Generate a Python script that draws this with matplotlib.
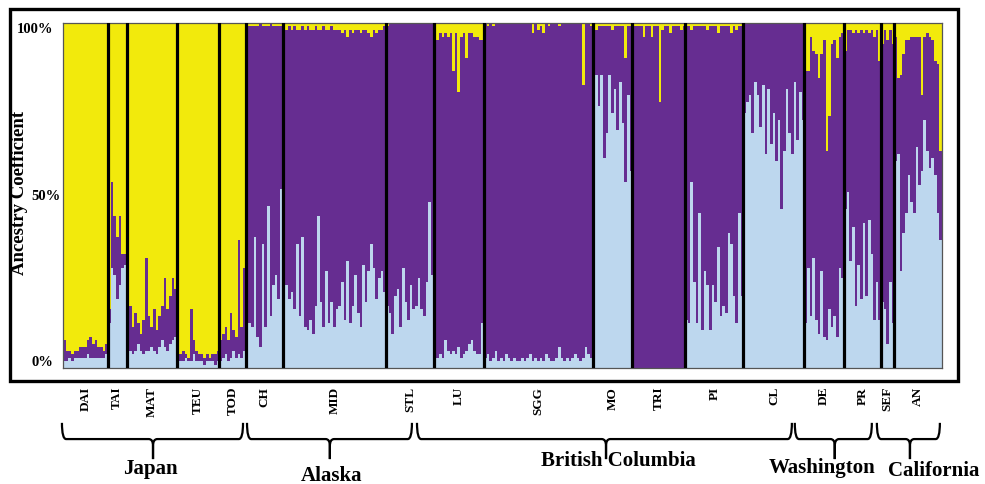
"""
plot.py - admixture (K=3) bar plot for the sampled populations.

Usage: python3 plot.py
"""

import numpy as np
import matplotlib
matplotlib.use("Agg")
import matplotlib.pyplot as plt
from matplotlib.path import Path
from matplotlib.patches import PathPatch, Rectangle
from matplotlib.transforms import blended_transform_factory

OUTPUT_PATH = "out.png"

# ancestry per individual, in percent; purple = 100 - blue - yellow
DAI_BLUE = [2, 2, 3, 2, 3, 3, 3, 3, 3, 4, 3, 3, 3, 3, 3, 3, 4]
DAI_YELLOW = [92, 95, 95, 96, 95, 95, 94, 94, 94, 92, 91, 93, 92, 94, 94, 95, 93]
TAI_BLUE = [13, 29, 27, 20, 24, 29, 30]
TAI_YELLOW = [83, 46, 56, 62, 56, 67, 67]
MAT_BLUE = [6, 5, 4, 5, 7, 5, 4, 5, 5, 6, 5, 4, 6, 8, 6, 5, 7, 8, 9]
MAT_YELLOW = [81, 82, 88, 84, 87, 90, 86, 68, 85, 88, 83, 89, 85, 82, 74, 83, 79, 74, 77]
TEU_BLUE = [2, 2, 2, 3, 2, 2, 4, 2, 2, 2, 1, 2, 2, 2, 1, 2]
TEU_YELLOW = [96, 96, 95, 96, 97, 83, 92, 95, 96, 96, 97, 96, 97, 96, 96, 95]
TOD_BLUE = [2, 3, 4, 2, 3, 5, 3, 4, 3, 5]
TOD_YELLOW = [92, 90, 88, 92, 84, 89, 91, 63, 88, 71]
CH_BLUE = [14, 13, 12, 38, 9, 6, 36, 12, 47, 15, 24, 27, 20, 52]
CH_YELLOW = [1, 1, 1, 1, 1, 0, 1, 1, 1, 0, 1, 1, 1, 1]
MID_BLUE = [27, 24, 20, 22, 17, 36, 15, 38, 12, 11, 14, 10, 18, 44, 19, 12, 28, 13, 19, 12,
            17, 18, 25, 14, 31, 13, 18, 27, 16, 12, 30, 19, 28, 36, 29, 20, 26, 28, 22]
MID_YELLOW = [10, 2, 1, 2, 1, 2, 2, 1, 2, 1, 2, 2, 1, 2, 2, 1, 2, 2, 1, 2,
              2, 2, 3, 2, 4, 2, 3, 2, 2, 3, 2, 2, 3, 4, 2, 3, 2, 2, 1]
STL_BLUE = [18, 16, 10, 21, 23, 12, 29, 19, 14, 24, 17, 18, 26, 17, 15, 25, 48, 27]
STL_YELLOW = [1, 0, 0, 0, 0, 0, 0, 0, 0, 0, 0, 0, 0, 0, 0, 0, 0, 0]
LU_BLUE = [10, 3, 4, 3, 8, 5, 4, 5, 4, 6, 3, 4, 5, 7, 8, 5, 4, 4, 13]
LU_YELLOW = [5, 5, 3, 4, 3, 4, 3, 14, 3, 20, 4, 3, 10, 3, 3, 4, 4, 5, 5]
SGG_BLUE = [3, 4, 2, 3, 5, 2, 3, 2, 4, 3, 2, 3, 2, 2, 3, 2, 3, 4, 2, 3,
            2, 3, 2, 4, 3, 2, 2, 3, 6, 3, 2, 3, 2, 3, 4, 3, 2, 3, 6, 4, 3]
SGG_YELLOW = [0, 1, 0, 1, 0, 0, 0, 0, 0, 0, 0, 0, 0, 0, 0, 0, 0, 0, 3, 0,
              2, 1, 3, 0, 1, 0, 0, 0, 1, 0, 0, 0, 0, 0, 0, 0, 0, 18, 0, 0, 1]
MO_BLUE = [44, 85, 76, 85, 61, 68, 85, 74, 81, 69, 83, 71, 54, 79, 57]
MO_YELLOW = [1, 2, 1, 1, 1, 1, 1, 2, 1, 1, 1, 1, 10, 1, 1]
TRI_BLUE = [0, 0, 0, 0, 0, 0, 0, 0, 0, 0, 0, 0, 0, 0, 0, 0, 0, 0, 0, 0]
TRI_YELLOW = [1, 1, 1, 1, 4, 1, 1, 4, 1, 1, 23, 2, 1, 1, 3, 1, 1, 1, 2, 1]
PI_BLUE = [14, 13, 54, 25, 13, 45, 11, 28, 24, 11, 24, 19, 35, 15, 18, 16, 39, 36, 21, 13, 45, 21]
PI_YELLOW = [1, 1, 2, 1, 1, 1, 1, 1, 2, 1, 1, 1, 3, 1, 1, 1, 1, 3, 1, 2, 1, 1]
CL_BLUE = [74, 77, 79, 68, 83, 79, 70, 82, 62, 81, 65, 74, 60, 72, 46, 63, 81, 68, 62, 83, 66, 80, 72]
CL_YELLOW = [0, 0, 0, 0, 0, 0, 0, 0, 0, 0, 0, 0, 0, 0, 0, 0, 0, 0, 0, 0, 0, 0, 0]
DE_BLUE = [13, 29, 15, 32, 14, 10, 28, 9, 8, 17, 12, 15, 9, 29, 26]
DE_YELLOW = [14, 14, 4, 8, 9, 16, 9, 5, 37, 27, 6, 5, 10, 4, 3]
PR_BLUE = [46, 51, 31, 41, 18, 30, 20, 42, 21, 43, 33, 14, 25, 14]
PR_YELLOW = [8, 2, 2, 3, 2, 3, 2, 3, 2, 3, 2, 4, 2, 11]
SEF_BLUE = [19, 17, 7, 25, 13]
SEF_YELLOW = [6, 2, 5, 2, 6]
AN_BLUE = [60, 62, 28, 39, 45, 56, 48, 45, 64, 53, 57, 72, 63, 58, 61, 56, 45, 37]
AN_YELLOW = [4, 16, 15, 9, 5, 5, 4, 4, 4, 4, 21, 4, 3, 4, 5, 11, 12, 37]

POPS = ["DAI", "TAI", "MAT", "TEU", "TOD", "CH", "MID", "STL", "LU", "SGG",
        "MO", "TRI", "PI", "CL", "DE", "PR", "SEF", "AN"]
POP_BLUE = [DAI_BLUE, TAI_BLUE, MAT_BLUE, TEU_BLUE, TOD_BLUE, CH_BLUE, MID_BLUE,
            STL_BLUE, LU_BLUE, SGG_BLUE, MO_BLUE, TRI_BLUE, PI_BLUE, CL_BLUE,
            DE_BLUE, PR_BLUE, SEF_BLUE, AN_BLUE]
POP_YELLOW = [DAI_YELLOW, TAI_YELLOW, MAT_YELLOW, TEU_YELLOW, TOD_YELLOW, CH_YELLOW,
              MID_YELLOW, STL_YELLOW, LU_YELLOW, SGG_YELLOW, MO_YELLOW, TRI_YELLOW,
              PI_YELLOW, CL_YELLOW, DE_YELLOW, PR_YELLOW, SEF_YELLOW, AN_YELLOW]

REGIONS = ["Japan", "Alaska", "British Columbia", "Washington", "California"]
# brace (start, tip, end) and label x, in individual units along the bar axis
BRACES = [(-0.4, 34.0, 68.0), (69.5, 100.8, 131.8), (133.7, 205.1, 275.3),
          (276.4, 291.5, 305.5), (307.4, 319.9, 331.2)]
REGION_LABEL_X = [32.9, 101.6, 209.6, 286.6, 329.0]
REGION_LABEL_Y = [-0.304, -0.325, -0.281, -0.301, -0.31]

C_BLUE = "#BDD7EE"
C_PURPLE = "#662D91"
C_YELLOW = "#F2EA0C"
FONT = "Liberation Serif"

W, H = 985, 485


def brace(ax, x0, xc, x1, y_top=-0.159, y_h=-0.206, y_tip=-0.264, r=1.6):
    tr = blended_transform_factory(ax.transData, ax.transAxes)
    dy = 0.02
    verts = [(x0, y_top), (x0, y_h), (x0 + r, y_h),
             (xc - r, y_h), (xc, y_h), (xc, y_h - dy), (xc, y_tip),
             (xc, y_h - dy), (xc, y_h), (xc + r, y_h),
             (x1 - r, y_h), (x1, y_h), (x1, y_top)]
    codes = [Path.MOVETO, Path.CURVE3, Path.CURVE3,
             Path.LINETO, Path.CURVE3, Path.CURVE3, Path.LINETO,
             Path.LINETO, Path.CURVE3, Path.CURVE3,
             Path.LINETO, Path.CURVE3, Path.CURVE3]
    patch = PathPatch(Path(verts, codes), transform=tr, fill=False,
                      lw=1.6, ec="black", clip_on=False, capstyle="butt")
    ax.add_patch(patch)


def plot():
    blue = np.concatenate([np.array(b, float) for b in POP_BLUE])
    yellow = np.concatenate([np.array(y, float) for y in POP_YELLOW])
    purple = 100 - blue - yellow
    n = len(blue)
    sizes = [len(b) for b in POP_BLUE]
    edges = np.concatenate([[0], np.cumsum(sizes)])

    fig = plt.figure(figsize=(W / 100, H / 100), dpi=100)
    fig.patch.set_facecolor("white")
    ax = fig.add_axes([63 / W, 1 - 369 / H, (942 - 63) / W, (369 - 24) / H])

    x = np.arange(n)
    kw = dict(width=1.0, align="edge", linewidth=0, antialiased=False)
    ax.bar(x, blue, color=C_BLUE, **kw)
    ax.bar(x, purple, bottom=blue, color=C_PURPLE, **kw)
    ax.bar(x, yellow, bottom=blue + purple, color=C_YELLOW, **kw)

    for e in edges[1:-1]:
        ax.axvline(e, color="black", lw=2.3, zorder=3)

    ax.set_xlim(0, n)
    ax.set_ylim(0, 100)
    ax.set_xticks([])
    ax.set_yticks([])
    for s in ax.spines.values():
        s.set_color("#555555")
        s.set_linewidth(0.9)

    ty = blended_transform_factory(ax.transAxes, ax.transData)
    tick_font = dict(fontsize=10.5, fontweight="bold", family=FONT, va="center")
    ax.text(-0.011, 98.5, "100%", transform=ty, ha="right", **tick_font)
    ax.text(-0.003, 50, "50%", transform=ty, ha="right", **tick_font)
    ax.text(-0.011, 2, "0%", transform=ty, ha="right", **tick_font)

    fig.text(20 / W, 1 - 193 / H, "Ancestry Coefficient", rotation=90,
             ha="center", va="center", fontsize=13.5, fontweight="bold", family=FONT)

    tx = blended_transform_factory(ax.transData, ax.transAxes)
    for name, a, b in zip(POPS, edges[:-1], edges[1:]):
        ax.text((a + b) / 2, -0.052, name, transform=tx, rotation=90,
                ha="center", va="top", fontsize=9.5, fontweight="bold", family=FONT)

    for (x0, xc, x1), name, lx, ly in zip(BRACES, REGIONS, REGION_LABEL_X, REGION_LABEL_Y):
        brace(ax, x0, xc, x1)
        ax.text(lx, ly, name, transform=tx, ha="center", va="baseline",
                fontsize=15, fontweight="bold", family=FONT)

    frame = Rectangle((10 / W, 1 - 382 / H), 948 / W, 372 / H, transform=fig.transFigure,
                      fill=False, lw=2.4, ec="black")
    fig.add_artist(frame)

    fig.savefig(OUTPUT_PATH, dpi=100)
    print(f"saved -> {OUTPUT_PATH}")


if __name__ == "__main__":
    plot()
